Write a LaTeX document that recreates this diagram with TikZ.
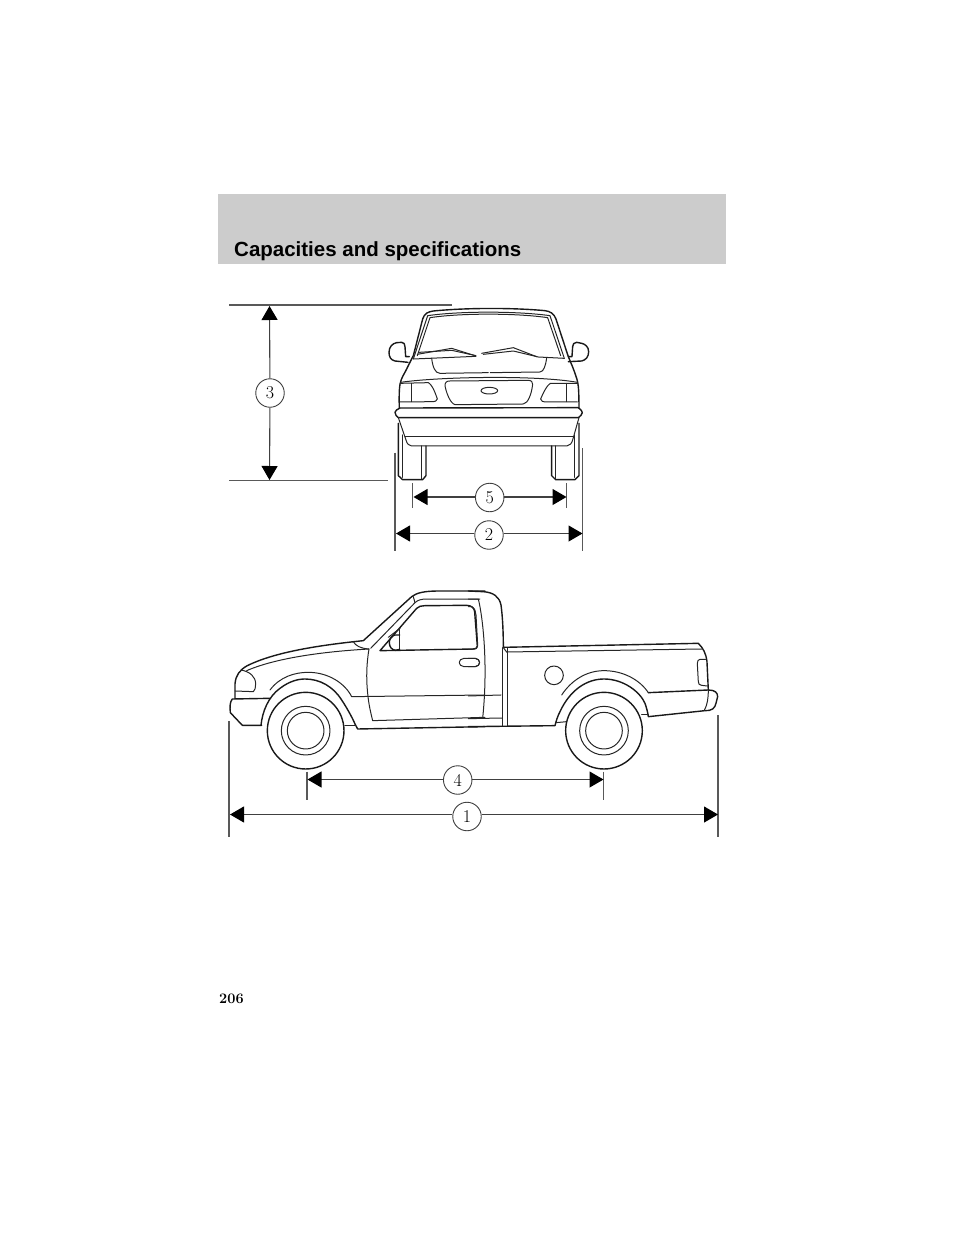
\documentclass[tikz,border=0pt]{standalone}
\usepackage{fontspec}
\newfontfamily\headfont{Liberation Sans}
\usetikzlibrary{arrows.meta}
\tikzset{
  ln/.style={line width=1pt,black!85,line join=round,line cap=round},
  hv/.style={line width=1.4pt,black!90,line join=round,line cap=round},
  ext/.style={line width=1.1pt,black!65},
  dimn/.style={line width=1.1pt,black!75,-{Triangle[length=14pt,width=16pt,black]}},
  num/.style={circle,draw=black!75,line width=.9pt,fill=white,minimum size=28.5pt,inner sep=0pt,font=\fontsize{18}{18}\selectfont},
  sm/.style={smooth,tension=.65}
}
\begin{document}
\begin{tikzpicture}[x=1pt,y=-1pt]
\useasboundingbox (0,0) rectangle (960,1242);
\fill[fill=black!20] (218,194) rectangle (726,264);
\node[anchor=base west,inner sep=0pt,font=\headfont\bfseries\fontsize{20.5}{20}\selectfont] (head) at (234,256.5) {Capacities and specifications};
\node[anchor=base west,inner sep=0pt,font=\bfseries\fontsize{14.5}{15}\selectfont] (page) at (219,1003) {206};

% ---------- rear view
\begin{scope}[shift={(380,295)},x=.3333pt,y=-.3333pt]
 \draw[hv] plot[sm] coordinates {(58,340)(60,268)(80,222)(100,182)} -- (128,72) .. controls (133,55) and (145,50) .. (160,48) .. controls (260,38) and (400,38) .. (495,47) .. controls (510,49) and (522,55) .. (528,72) -- (565,185) plot[sm] coordinates {(565,185)(585,235)(595,275)(597,340)};
 \draw[ln] (100,192) -- (143,62) .. controls (240,48) and (410,48) .. (510,62) -- (553,190);
 \draw[ln] (112,182) -- (150,68) .. controls (240,54) and (410,54) .. (503,68) -- (542,182);
 \draw[ln] (100,192) -- (288,184);
 \draw[ln] (112,178) -- (215,160) -- (285,182);
 \draw[ln] (118,172) -- (215,166) -- (288,182);
 \draw[ln] (305,175) -- (400,158) -- (470,185);
 \draw[ln] (310,178) -- (400,168) -- (475,186) -- (553,190);
 \draw[ln] (155,190) .. controls (158,215) and (165,235) .. (180,235) -- (325,233);
 \draw[ln] (331,233) -- (480,231) .. controls (492,230) and (497,210) .. (500,190);
 \draw[ln] (62,262) .. controls (180,245) and (470,240) .. (592,262);
 \draw[ln] (60,265) -- (145,263) .. controls (158,270) and (168,300) .. (172,312) .. controls (170,318) and (165,320) .. (160,320) -- (60,321);
 \draw[ln] (93,265) -- (93,320);
 \draw[ln] (592,265) -- (512,265) .. controls (500,270) and (487,300) .. (482,312) .. controls (484,318) and (488,321) .. (495,321) -- (592,321);
 \draw[ln] (560,265) -- (560,320);
 \draw[ln] (210,258) -- (445,256) .. controls (455,256) and (458,262) .. (458,268) .. controls (455,295) and (445,325) .. (430,327) -- (225,329) .. controls (210,325) and (198,290) .. (195,272) .. controls (195,262) and (200,258) .. (210,258);
 \draw[ln] (328,287) ellipse [x radius=25,y radius=10];
 \draw[hv] (60,339) -- (595,338) .. controls (603,345) and (607,348) .. (607,353) .. controls (607,358) and (600,365) .. (595,368) -- (55,368) .. controls (50,365) and (45,358) .. (45,352) .. controls (45,348) and (52,342) .. (60,339);
 \draw[ln] (55,368) -- (78,435) .. controls (81,448) and (88,452) .. (95,453) -- (560,453) .. controls (570,452) and (575,445) .. (578,435) -- (597,368);
 \draw[ln] (75,426) -- (580,426);
 % tyres
 \draw[hv] (55,385) -- (55,542) -- (68,554) -- (128,554) -- (138,542) -- (138,453);
 \draw[ln] (66,420) -- (66,547);
 \draw[ln] (125,453) -- (125,552);
 \draw[hv] (597,385) -- (597,542) -- (585,554) -- (527,554) -- (515,542) -- (515,453);
 \draw[ln] (585,420) -- (585,547);
 \draw[ln] (527,453) -- (527,552);
 % mirrors
 \draw[hv] (84,202) -- (45,198) .. controls (32,195) and (27,185) .. (27,172) .. controls (27,155) and (38,145) .. (50,143) -- (65,142) .. controls (72,142) and (75,148) .. (75,155) -- (77,185) -- (88,185);
 \draw[hv] (565,200) -- (605,198) .. controls (618,195) and (626,185) .. (626,170) .. controls (626,155) and (615,147) .. (605,145) -- (590,142) .. controls (582,142) and (578,148) .. (578,155) -- (576,185) -- (565,185);
\end{scope}

% ---------- side view, front half
\begin{scope}[shift={(225,580)},x=.3333pt,y=-.3333pt]
 \draw[hv] (30,355) -- (30,312) .. controls (32,285) and (45,270) .. (65,258) .. controls (150,215) and (290,195) .. (415,182) -- (560,50) .. controls (575,38) and (600,33) .. (640,33) -- (780,33);
 \draw[ln] (65,272) .. controls (150,235) and (290,215) .. (432,207);
 \draw[ln] (385,185) .. controls (392,197) and (405,205) .. (432,207);
 \draw[ln] (48,270) .. controls (75,275) and (92,290) .. (92,312) .. controls (92,322) and (90,332) .. (85,335) -- (30,333);
 \draw[hv] (135,355) -- (22,357) .. controls (15,365) and (14,380) .. (16,398) -- (52,436) -- (110,436);
 \draw[hv] (108,436) .. controls (112,395) and (130,350) .. (165,325) .. controls (195,302) and (222,297) .. (240,297) .. controls (285,297) and (325,320) .. (350,360) .. controls (370,390) and (385,420) .. (390,432) -- (398,447) -- (780,440);
 \draw[ln] (360,436) -- (392,436);
 \draw[ln] (135,330) .. controls (165,290) and (210,277) .. (250,277) .. controls (310,277) and (360,310) .. (380,350) -- (780,345);
 \draw[ln] (432,207) .. controls (425,250) and (423,290) .. (428,340) .. controls (432,380) and (438,400) .. (443,422) -- (780,412);
 \draw[ln] (437,205) -- (570,68) .. controls (578,60) and (590,57) .. (605,57) -- (765,57);
 \draw[ln] (565,50) -- (570,68);
 \draw[hv] (465,212) -- (575,85) .. controls (580,79) and (590,77) .. (600,77) -- (725,76) .. controls (740,76) and (748,85) .. (749,95) -- (757,198) .. controls (757,205) and (752,207) .. (745,207) -- (465,212);
 \draw[ln] (525,145) -- (525,210);
 \draw[ln] (490,172) -- (525,145);
 \draw[hv] (524,165) -- (510,165) .. controls (498,168) and (493,178) .. (493,188) .. controls (493,200) and (500,210) .. (512,211) -- (524,208);
 \draw[ln] (717,235) -- (752,235) .. controls (768,237) and (768,258) .. (752,260) -- (717,260) .. controls (698,258) and (698,237) .. (717,235);
 \draw[hv] (242,452) circle [radius=115];
 \draw[ln] (242,452) circle [radius=73];
 \draw[ln] (242,452) circle [radius=55];
\end{scope}

% ---------- side view, rear half
\begin{scope}[shift={(470,580)},x=.3333pt,y=-.3333pt]
 \draw[hv] (-5,33) -- (40,35) .. controls (70,37) and (88,50) .. (93,75) .. controls (98,110) and (100,160) .. (100,202) -- (685,190) .. controls (700,205) and (708,220) .. (711,245) -- (715,330);
 \draw[ln] (110,216) -- (695,207);
 \draw[ln] (100,203) -- (110,216);
 \draw[ln] (-5,57) -- (25,57) .. controls (38,110) and (55,250) .. (38,415);
 \draw[ln] (-5,80) -- (5,80) .. controls (15,85) and (17,95) .. (18,105) -- (23,195) .. controls (23,205) and (15,208) .. (5,208) -- (-5,208);
 \draw[ln] (-5,235) -- (15,235) .. controls (33,237) and (33,258) .. (15,260) -- (-5,260);
 \draw[ln] (-5,348) -- (93,345);
 \draw[ln] (-5,416) -- (97,414);
 \draw[hv] (-5,440) -- (255,437) .. controls (258,425) and (262,410) .. (270,395) .. controls (300,330) and (350,297) .. (402,297) .. controls (460,297) and (510,335) .. (525,370) .. controls (530,385) and (533,395) .. (535,410) -- (705,392) .. controls (725,393) and (735,385) .. (738,370) -- (743,350) .. controls (743,338) and (735,330) .. (715,330) -- (535,338);
 \draw[ln] (535,338) .. controls (510,300) and (460,272) .. (402,272) .. controls (350,272) and (305,300) .. (275,345);
 \draw[ln] (715,330) .. controls (715,355) and (712,375) .. (703,391);
 \draw[ln] (258,428) -- (290,425);
 \draw[ln] (515,405) -- (535,405);
 \draw[ln] (97,203) -- (97,437);
 \draw[ln] (112,205) -- (112,437);
 \draw[ln] (690,238) -- (707,238) (712,318) -- (695,316) .. controls (688,316) and (686,312) .. (685,305) -- (682,250) .. controls (682,243) and (685,238) .. (690,238);
 \draw[ln] (252,286) circle [radius=28];
 \draw[hv] (402,452) circle [radius=115];
 \draw[ln] (402,452) circle [radius=73];
 \draw[ln] (402,452) circle [radius=55];
\end{scope}

% ---------- dimensions
\coordinate (h1a) at (229,305);  \coordinate (h1b) at (452,305);
\coordinate (h2a) at (229,480.5);\coordinate (h2b) at (388,480.5);
\coordinate (t3) at (269.5,306); \coordinate (b3) at (269.5,480);
\coordinate (e5la) at (412.5,483); \coordinate (e5lb) at (412.5,508);
\coordinate (e5ra) at (566.7,483); \coordinate (e5rb) at (566.7,508);
\coordinate (e2la) at (395,452.5); \coordinate (e2lb) at (395,551);
\coordinate (e2ra) at (582.7,448); \coordinate (e2rb) at (582.7,551);
\coordinate (e4la) at (307,771.5); \coordinate (e4lb) at (307,799.5);
\coordinate (e4ra) at (603.5,771.5); \coordinate (e4rb) at (603.5,799.5);
\coordinate (e1la) at (229,721); \coordinate (e1lb) at (229,837);
\coordinate (e1ra) at (718,715); \coordinate (e1rb) at (718,837);
\draw[ext] (h1a) -- (h1b);
\draw[ext] (h2a) -- (h2b);
\draw[ext] (e5la) -- (e5lb);
\draw[ext] (e5ra) -- (e5rb);
\draw[ext] (e2la) -- (e2lb);
\draw[ext] (e2ra) -- (e2rb);
\draw[ext] (e4la) -- (e4lb);
\draw[ext] (e4ra) -- (e4rb);
\draw[ext] (e1la) -- (e1lb);
\draw[ext] (e1ra) -- (e1rb);

\node[num] (n3) at (270,393) {3};
\node[num] (n5) at (489.7,497.5) {5};
\node[num] (n2) at (489,535) {2};
\node[num] (n4) at (457.7,780) {4};
\node[num] (n1) at (467,816.5) {1};

\coordinate (l5) at (413.5,497); \coordinate (r5) at (566.5,497);
\coordinate (l2) at (396,533.5); \coordinate (r2) at (582.5,533.5);
\coordinate (l4) at (307.5,779.5); \coordinate (r4) at (603.5,779.5);
\coordinate (l1) at (230,814.5); \coordinate (r1) at (718,814.5);
\draw[dimn] (n3) -- (t3);
\draw[dimn] (n3) -- (b3);
\draw[dimn] (n5.west|-l5) -- (l5);
\draw[dimn] (n5.east|-r5) -- (r5);
\draw[dimn] (n2.west|-l2) -- (l2);
\draw[dimn] (n2.east|-r2) -- (r2);
\draw[dimn] (n4.west|-l4) -- (l4);
\draw[dimn] (n4.east|-r4) -- (r4);
\draw[dimn] (n1.west|-l1) -- (l1);
\draw[dimn] (n1.east|-r1) -- (r1);
\end{tikzpicture}
\end{document}
